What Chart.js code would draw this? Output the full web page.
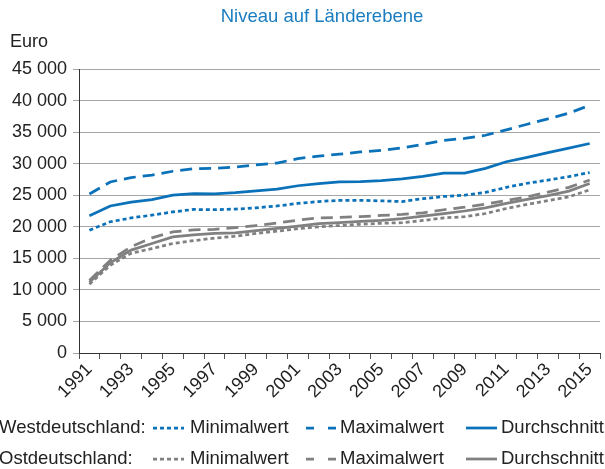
<!DOCTYPE html>
<html>
<head>
<meta charset="utf-8">
<script src="https://cdn.jsdelivr.net/npm/chart.js@4.4.1/dist/chart.umd.min.js"></script>
<style>
  html, body { margin: 0; padding: 0; background: #fff; }
  #wrap { width: 605px; height: 469px; position: relative; }
</style>
</head>
<body>
<div id="wrap"><canvas id="chart"></canvas></div>
<script>
// Daten
const years = ['1991','1992','1993','1994','1995','1996','1997','1998','1999','2000','2001','2002','2003',
  '2004','2005','2006','2007','2008','2009','2010','2011','2012','2013','2014','2015'];
const groups = ['Westdeutschland', 'Ostdeutschland'];
const measures = ['Minimalwert', 'Maximalwert', 'Durchschnitt'];

const westMin = [19450, 20800, 21400, 21850, 22350, 22750, 22700, 22800, 23000, 23300, 23700, 24000, 24200,
  24200, 24100, 24000, 24450, 24800, 25000, 25450, 26250, 26900, 27400, 27950, 28600];
const westMax = [25200, 27100, 27800, 28200, 28800, 29200, 29250, 29450, 29800, 30100, 30800, 31200, 31500,
  31850, 32100, 32500, 33050, 33700, 34000, 34500, 35350, 36250, 37100, 38000, 39250];
const westAvg = [21750, 23300, 23900, 24300, 25000, 25250, 25200, 25400, 25700, 25950, 26500, 26850, 27100,
  27150, 27300, 27600, 28000, 28500, 28500, 29250, 30300, 31000, 31750, 32450, 33200];

const eastMin = [10900, 13900, 15800, 16550, 17350, 17800, 18200, 18500, 18950, 19300, 19700, 20000, 20200,
  20400, 20550, 20650, 21000, 21400, 21600, 22100, 22900, 23550, 24150, 24750, 25850];
const eastMax = [11500, 14700, 16850, 18250, 19200, 19500, 19600, 19850, 20200, 20600, 21050, 21400, 21500,
  21600, 21800, 21950, 22200, 22700, 23100, 23600, 24150, 24750, 25500, 26250, 27400];
const eastAvg = [11200, 14300, 16300, 17350, 18400, 18700, 18950, 19050, 19400, 19750, 20100, 20500, 20650,
  20850, 21000, 21300, 21700, 22100, 22500, 23000, 23700, 24350, 24950, 25650, 26850];

const yMax = 45000;
const yStep = 5000;

const BLUE = '#0b72b9';
const GREY = '#808080';
const FONT = '"Liberation Sans", Arial, sans-serif';

function fmt(v) {
  return String(v).replace(/\B(?=(\d{3})+(?!\d))/g, ' ');
}

function line(label, data, color, dash) {
  return {
    label: label,
    data: data,
    borderColor: color,
    backgroundColor: color,
    borderWidth: 2.75,
    borderDash: dash,
    pointRadius: 0,
    fill: false,
    tension: 0
  };
}

const dashes = [[4, 3], [12, 7], []];
const legendDashes = [[4, 3], [8, 14], []];

// Titel, Einheit und Legende
const extras = {
  id: 'extras',
  afterDraw(chart) {
    const ctx = chart.ctx;
    ctx.save();
    ctx.textBaseline = 'middle';
    ctx.font = '18.5px ' + FONT;
    ctx.fillStyle = '#1a7dc0';
    ctx.textAlign = 'center';
    ctx.fillText('Niveau auf Länderebene', 322, 17);
    ctx.textAlign = 'left';
    ctx.fillStyle = '#222';
    ctx.font = '18px ' + FONT;
    ctx.fillText('Euro', 10, 42);

    const sampleX = [153, 306, 466];
    const textX = [190, 340, 501];
    ctx.font = '18.5px ' + FONT;
    groups.forEach(function (g, r) {
      const y = 428 + r * 31;
      ctx.fillStyle = '#222';
      ctx.fillText(g + ':', -1, y);
      measures.forEach(function (m, c) {
        const ds = chart.data.datasets[r * 3 + c];
        ctx.strokeStyle = ds.borderColor;
        ctx.lineWidth = 2.75;
        ctx.setLineDash(legendDashes[c]);
        ctx.beginPath();
        ctx.moveTo(sampleX[c], y);
        ctx.lineTo(sampleX[c] + 31, y);
        ctx.stroke();
        ctx.setLineDash([]);
        ctx.fillStyle = '#222';
        ctx.fillText(m, textX[c], y);
      });
    });
    ctx.restore();
  }
};

new Chart(document.getElementById('chart'), {
  type: 'line',
  data: {
    labels: years,
    datasets: [
      line(groups[0] + ': ' + measures[0], westMin, BLUE, dashes[0]),
      line(groups[0] + ': ' + measures[1], westMax, BLUE, dashes[1]),
      line(groups[0] + ': ' + measures[2], westAvg, BLUE, dashes[2]),
      line(groups[1] + ': ' + measures[0], eastMin, GREY, dashes[0]),
      line(groups[1] + ': ' + measures[1], eastMax, GREY, dashes[1]),
      line(groups[1] + ': ' + measures[2], eastAvg, GREY, dashes[2])
    ]
  },
  options: {
    responsive: true,
    maintainAspectRatio: false,
    animation: false,
    layout: { padding: { top: 69, right: 2, bottom: 56, left: 0 } },
    plugins: {
      legend: { display: false },
      title: { display: false },
      tooltip: { enabled: false }
    },
    scales: {
      x: {
        offset: true,
        grid: {
          offset: true,
          drawOnChartArea: false,
          drawTicks: true,
          tickLength: 6,
          color: '#555'
        },
        border: { color: '#333', width: 1 },
        ticks: {
          autoSkip: false,
          minRotation: 45,
          maxRotation: 45,
          padding: 0,
          color: '#222',
          font: { family: FONT, size: 18 },
          callback: function (value, index) {
            return index % 2 === 0 ? years[index] : '';
          }
        },
        afterFit: function (scale) { scale.height = 60; }
      },
      y: {
        min: 0,
        max: yMax,
        grid: {
          color: '#a6a6a6',
          tickLength: 6,
          drawTicks: true
        },
        border: { color: '#333', width: 1 },
        ticks: {
          stepSize: yStep,
          padding: 6,
          color: '#222',
          font: { family: FONT, size: 18 },
          callback: function (v) { return fmt(v); }
        },
        afterFit: function (scale) { scale.width = 79; }
      }
    }
  },
  plugins: [extras]
});
</script>
</body>
</html>
